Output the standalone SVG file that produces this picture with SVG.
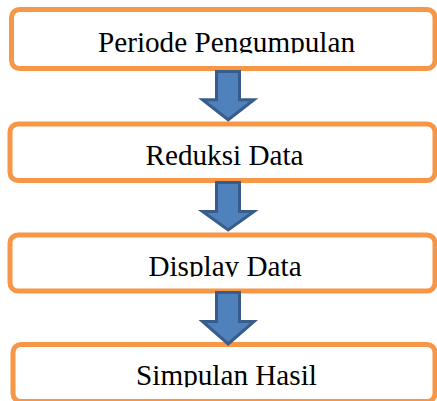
<svg xmlns="http://www.w3.org/2000/svg" width="437" height="401" viewBox="0 0 437 401">
<style>
.box{fill:#fff;stroke:#f79646;stroke-width:5}
.lbl{font-family:"Liberation Serif","Times New Roman",serif;font-size:29.2px;fill:#000;text-anchor:middle}
.arr{fill:#4f81bd;stroke:#385d8a;stroke-width:3;stroke-linejoin:miter}
</style>
<defs>
<clipPath id="c1"><rect x="0" y="9" width="437" height="44.3"/></clipPath>
<clipPath id="c2"><rect x="0" y="124" width="437" height="44"/></clipPath>
<clipPath id="c3"><rect x="0" y="235" width="437" height="41.7"/></clipPath>
<clipPath id="c4"><rect x="0" y="344" width="437" height="43.3"/></clipPath>
</defs>
<g id="n1">
<rect class="box" x="11.5" y="9.5" width="423.5" height="59" rx="8"/>
<text class="lbl" x="226.5" y="51.7" clip-path="url(#c1)">Periode Pengumpulan</text>
</g>
<g id="n2">
<rect class="box" x="10" y="124" width="425" height="56.5" rx="8"/>
<text class="lbl" x="224.5" y="165" clip-path="url(#c2)">Reduksi Data</text>
</g>
<g id="n3">
<rect class="box" x="10" y="235" width="425" height="56" rx="8"/>
<text class="lbl" x="225" y="275.5" clip-path="url(#c3)">Display Data</text>
</g>
<g id="n4">
<rect class="box" x="13" y="344.5" width="422" height="57" rx="8"/>
<text class="lbl" x="226.5" y="385" clip-path="url(#c4)">Simpulan Hasil</text>
</g>
<g id="connectors">
<polygon class="arr" points="216.5,71.5 239.5,71.5 239.5,99.8 254,99.8 228.2,119.8 202.5,99.8 216.5,99.8"/>
<polygon class="arr" points="216.5,182.5 239.5,182.5 239.5,211.5 254,211.5 228.2,230 202.5,211.5 216.5,211.5"/>
<polygon class="arr" points="216.5,292.5 239.5,292.5 239.5,321.5 254,321.5 228.2,344 202.5,321.5 216.5,321.5"/>
</g>
</svg>
